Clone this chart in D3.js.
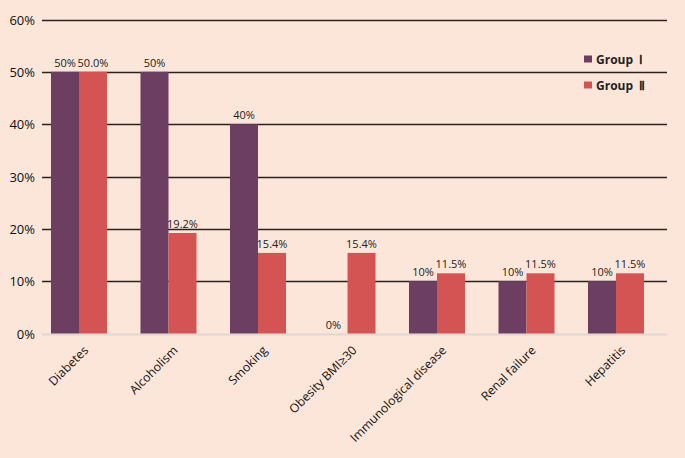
<!DOCTYPE html>
<html>
<head>
<meta charset="utf-8">
<script src="https://cdn.jsdelivr.net/npm/d3@7"></script>
<style>
  html, body { margin: 0; padding: 0; background: #fce6d9; }
  svg { display: block; font-family: "Open Sans", "Noto Sans", sans-serif; }
</style>
</head>
<body>
<svg id="chart" width="685" height="458"></svg>
<script>
const categories = ["Diabetes", "Alcoholism", "Smoking", "Obesity BMI\u226530", "Immunological disease", "Renal failure", "Hepatitis"];
const groupNames = ["Group \u2160", "Group \u2161"];
const group1 = [50, 50, 40, 0, 10, 10, 10];
const group2 = [50.0, 19.2, 15.4, 15.4, 11.5, 11.5, 11.5];
const group1Labels = ["50%", "50%", "40%", "0%", "10%", "10%", "10%"];
const group2Labels = ["50.0%", "19.2%", "15.4%", "15.4%", "11.5%", "11.5%", "11.5%"];
const yTicks = [0, 10, 20, 30, 40, 50, 60];
const colors = ["#6c3f62", "#d35452"];

const svg = d3.select("#chart");
svg.append("rect").attr("width", 685).attr("height", 458).attr("fill", "#fce6d9");

const y = d3.scaleLinear().domain([0, 60]).range([333.5, 19.5]);
const x = d3.scaleBand().domain(categories).range([34.25, 660.75]).paddingInner(0.374).paddingOuter(0.187);
const xs = d3.scaleBand().domain([0, 1]).range([0, x.bandwidth()]);

const gridLeft = 42, gridRight = 667;

// gridlines
svg.append("g").selectAll("line")
  .data(yTicks)
  .join("line")
  .attr("x1", gridLeft).attr("x2", gridRight)
  .attr("y1", (d) => Math.round(y(d)) + 0.5).attr("y2", (d) => Math.round(y(d)) + 0.5)
  .attr("stroke", (d) => (d === 0 ? "#e0d6d2" : "#2b2220"))
  .attr("stroke-width", (d) => (d === 0 ? 2 : 1.4));

// y tick labels
svg.append("g").selectAll("text")
  .data(yTicks)
  .join("text")
  .attr("x", 35).attr("y", (d) => y(d) + 5)
  .attr("text-anchor", "end")
  .attr("font-size", 13)
  .attr("fill", "#111")
  .text((d) => `${d}%`);

// bars
const series = [group1, group2];
const seriesLabels = [group1Labels, group2Labels];
series.forEach((vals, s) => {
  const g = svg.append("g");
  g.selectAll("rect")
    .data(vals)
    .join("rect")
    .attr("x", (d, i) => x(categories[i]) + xs(s))
    .attr("width", xs.bandwidth())
    .attr("y", (d) => y(d))
    .attr("height", (d) => y(0) - y(d))
    .attr("fill", colors[s]);
  g.selectAll("text")
    .data(vals)
    .join("text")
    .attr("x", (d, i) => x(categories[i]) + xs(s) + xs.bandwidth() / 2)
    .attr("y", (d) => y(d) - 5)
    .attr("text-anchor", "middle")
    .attr("font-size", 11)
    .attr("fill", "#222")
    .text((d, i) => seriesLabels[s][i]);
});

// category labels
svg.append("g").selectAll("text")
  .data(categories)
  .join("text")
  .attr("transform", (d) => `translate(${x(d) + x.bandwidth() / 2 + 4},${345}) rotate(-45)`)
  .attr("text-anchor", "end")
  .attr("dy", "0.7em")
  .attr("font-size", 12.2)
  .attr("fill", "#111")
  .text((d) => d);

// legend
const legend = svg.append("g").selectAll("g")
  .data(groupNames)
  .join("g")
  .attr("transform", (d, i) => `translate(584,${55.5 + i * 26})`);
legend.append("rect").attr("width", 8).attr("height", 7).attr("fill", (d, i) => colors[i]);
legend.append("text")
  .attr("x", 12).attr("y", 8)
  .attr("font-size", 12).attr("font-weight", "bold")
  .attr("fill", "#222")
  .attr("xml:space", "preserve")
  .text((d) => d.replace(" ", "  "));
</script>
</body>
</html>
